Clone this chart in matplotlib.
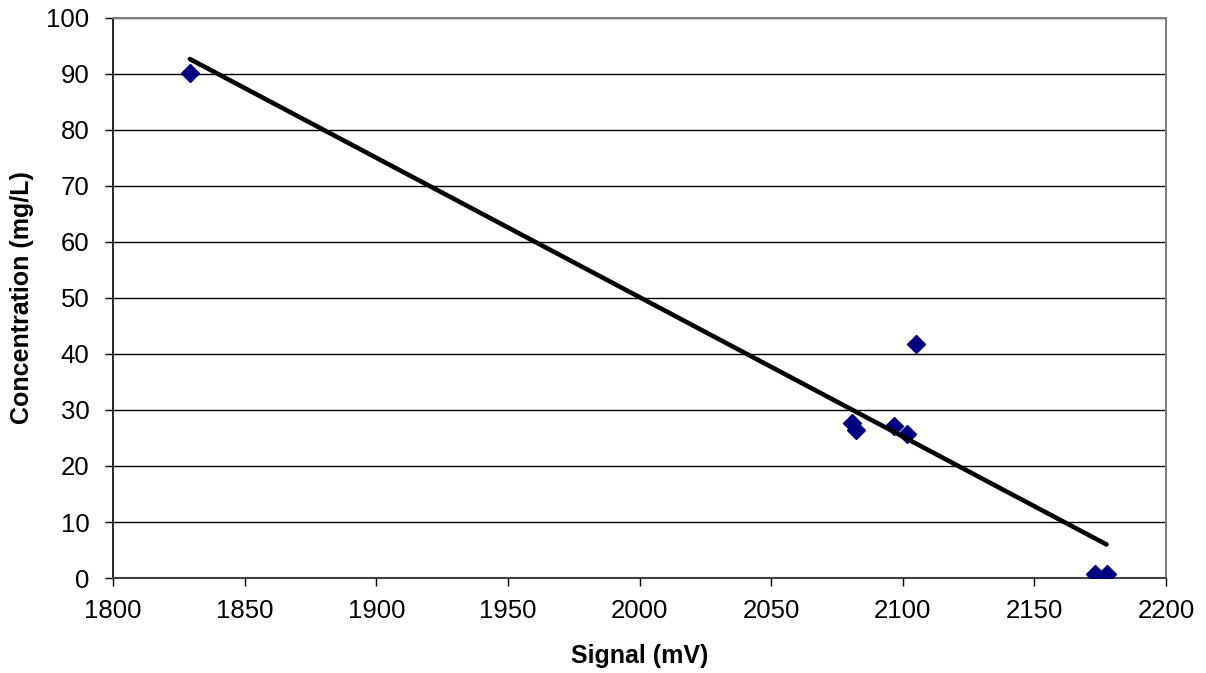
import numpy as np
import matplotlib
matplotlib.use("Agg")
import matplotlib.pyplot as plt

signal_mv = [1829.2, 2080.7, 2082.1, 2096.7, 2101.5, 2105.0, 2173.0, 2177.4]
conc_mgL = [90.2, 27.7, 26.4, 27.1, 25.7, 41.8, 0.8, 0.8]
x_ticks = [1800, 1850, 1900, 1950, 2000, 2050, 2100, 2150, 2200]
y_ticks = [0, 10, 20, 30, 40, 50, 60, 70, 80, 90, 100]

plt.rcParams['font.family'] = ['Liberation Sans', 'DejaVu Sans']

fig = plt.figure(figsize=(12.06, 6.73), dpi=100)
ax = fig.add_axes([113/1206, 1 - 578/673, (1166-113)/1206, (578-18)/673])

ax.set_xlim(1800, 2200)
ax.set_ylim(0, 100)
ax.set_xticks(x_ticks)
ax.set_yticks(y_ticks)
ax.yaxis.grid(True, color='black', linewidth=1.0)
ax.set_axisbelow(True)

ax.plot(signal_mv, conc_mgL, linestyle='none', marker='D', markersize=9,
        color='#000080', zorder=3)

coef = np.polyfit(signal_mv, conc_mgL, 1)
xs = np.array([min(signal_mv), max(signal_mv)])
ax.plot(xs, np.polyval(coef, xs), color='black', linewidth=3.3, zorder=4,
        solid_capstyle='round')

for s in ['top', 'right']:
    ax.spines[s].set_color('#808080')
    ax.spines[s].set_linewidth(1.5)
ax.spines['left'].set_color('black')
ax.spines['bottom'].set_color('#404040')
ax.spines['left'].set_linewidth(1.2)
ax.spines['bottom'].set_linewidth(1.5)

ax.tick_params(axis='both', direction='out', length=6, width=1, labelsize=18.5, colors='black')
ax.tick_params(axis='x', pad=9)
ax.tick_params(axis='y', pad=11)
ax.set_xlabel('Signal (mV)', fontsize=18, fontweight='bold', labelpad=15)
ax.set_ylabel('Concentration (mg/L)', fontsize=18, fontweight='bold', labelpad=9)

fig.savefig('out.png', dpi=100)
